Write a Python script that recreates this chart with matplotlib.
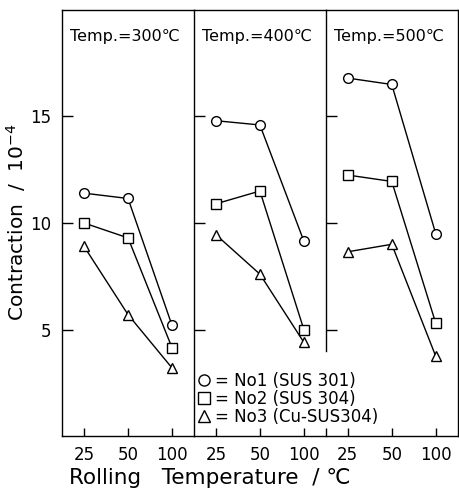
import matplotlib
matplotlib.use("Agg")
import matplotlib.pyplot as plt
from matplotlib.lines import Line2D

plt.rcParams["font.family"] = "DejaVu Sans"

roll_temps = ["25", "50", "100"]
anneal_temps = ["Temp.=300℃", "Temp.=400℃", "Temp.=500℃"]
labels = ["= No1 (SUS 301)", "= No2 (SUS 304)", "= No3 (Cu-SUS304)"]
markers = ["o", "s", "^"]

# contraction (x1e-4) per annealing temperature, rows = No1, No2, No3
c300 = [[11.4, 11.15, 5.2],
        [10.0, 9.3, 4.15],
        [8.9, 5.7, 3.2]]
c400 = [[14.8, 14.6, 9.15],
        [10.9, 11.5, 5.0],
        [9.45, 7.6, 4.4]]
c500 = [[16.8, 16.5, 9.5],
        [12.25, 11.95, 5.3],
        [8.65, 9.0, 3.75]]
panels = [c300, c400, c500]

fig = plt.figure(figsize=(4.6, 4.95), dpi=100)
gs = fig.add_gridspec(1, 3, left=0.135, right=0.995, top=0.98, bottom=0.119, wspace=0)
axes = [fig.add_subplot(gs[0, i]) for i in range(3)]

xpos = list(range(len(roll_temps)))
for i, ax in enumerate(axes):
    for series, m in zip(panels[i], markers):
        ax.plot(xpos, series, color="k", lw=1.0, marker=m, ms=7 if m != "s" else 7.5,
                mfc="white", mec="k", mew=1.0, zorder=3)
    ax.set_xlim(-0.5, 2.5)
    ax.set_ylim(0, 20)
    ax.set_xticks(xpos)
    ax.set_xticklabels(roll_temps, fontsize=12)
    ax.set_yticks([5, 10, 15])
    ax.tick_params(axis="y", direction="in", length=8, width=1)
    ax.tick_params(axis="x", direction="in", length=6, width=1, pad=7)
    ax.text(0.06, 0.955, anneal_temps[i], transform=ax.transAxes, fontsize=11.5,
            ha="left", va="top")
    for s in ax.spines.values():
        s.set_linewidth(1.0)
    if i > 0:
        ax.tick_params(axis="y", labelleft=False)
    if i < 2:
        ax.spines["right"].set_visible(False)

axes[0].set_yticklabels(["5", "10", "15"], fontsize=12)
axes[0].tick_params(axis="y", pad=8)
axes[2].spines["left"].set_bounds(4, 20)
axes[2].set_xticks([-0.5], minor=True)
axes[2].tick_params(axis="x", which="minor", direction="in", length=6, width=1)

fig.text(0.035, 0.55, "Contraction  /  10$^{-4}$", fontsize=14.5, rotation=90,
         ha="center", va="center")
fig.text(0.455, 0.035, "Rolling   Temperature  / ℃", fontsize=15.5,
         ha="center", va="center")

handles = [Line2D([], [], ls="none", marker=m, ms=8, mfc="white", mec="k", mew=1.0)
           for m in markers]
fig.legend(handles, labels, loc="upper left", bbox_to_anchor=(0.43, 0.248),
           frameon=False, fontsize=12, handlelength=0.8, handletextpad=0.25,
           labelspacing=0.0, borderaxespad=0, borderpad=0)

fig.savefig("out.png", dpi=100)
